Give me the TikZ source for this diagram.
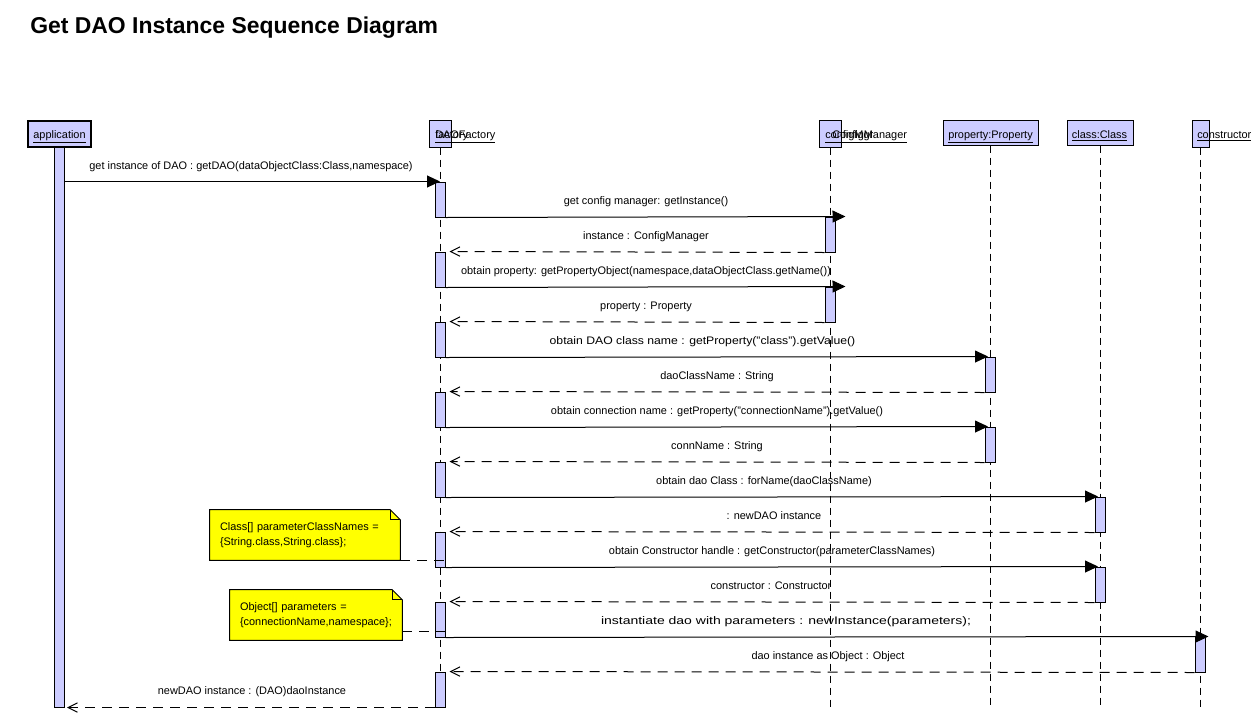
\documentclass[tikz,border=0pt]{standalone}
\usepackage{fontspec}
\setmainfont{Liberation Sans}
\usetikzlibrary{arrows.meta,backgrounds}
\definecolor{lav}{RGB}{204,204,255}
\definecolor{noteyel}{RGB}{255,255,0}
\begin{document}
\begin{tikzpicture}[x=0.75pt,y=-0.75pt,
  every node/.style={font=\fontsize{8.2}{11.25}\selectfont, inner sep=0pt},
  hdr/.style={draw=black, fill=lav, line width=0.75pt},
  act/.style={draw=black, fill=lav, line width=0.75pt, minimum width=7.5pt},
  life/.style={line width=0.75pt, dash pattern=on 5.25pt off 3.75pt},
  call/.style={line width=0.75pt, -{Triangle[length=9.75pt,width=9pt]}},
  ret/.style={line width=0.75pt, dash pattern=on 7.5pt off 5.25pt, -{Straight Barb[length=7pt,width=7pt]}},
  lbl/.style={anchor=base},
  htxt/.style={anchor=base west},
  notebox/.style={draw=black, fill=noteyel, line width=0.75pt},
  notetxt/.style={align=left, inner xsep=7.5pt},
  notelink/.style={line width=0.75pt, dash pattern=on 7.5pt off 5.25pt}]

\useasboundingbox (0,0) rectangle (1260,718);

% title
\node[anchor=base west, font=\fontsize{17.2}{20}\selectfont\bfseries] (title) at (30,33) {Get DAO Instance Sequence Diagram};

% headers
\node[hdr, line width=1.5pt, minimum width=63*0.75pt, minimum height=26*0.75pt] (app) at (59.5,133.5) {};
\node[anchor=base] (appT) at (59.5,138) {\underline{application}};
\node[hdr, minimum width=22*0.75pt, minimum height=27*0.75pt] (fac) at (440,133.5) {};
\node[htxt] (facT1) at (435,138) {\underline{factory}};
\node[htxt] (facT2) at (435,138) {\underline{DAOFactory}};
\node[hdr, minimum width=22*0.75pt, minimum height=27*0.75pt] (cfg) at (830.5,133.5) {};
\node[htxt] (cfgT1) at (825,138) {\underline{configMgr}};
\node[htxt] (cfgT2) at (832,138) {\underline{ConfigManager}};
\node[hdr, minimum width=95*0.75pt, minimum height=25*0.75pt] (prop) at (990.5,132.5) {};
\node[anchor=base] (propT) at (990.5,138) {\underline{property:Property}};
\node[hdr, minimum width=66*0.75pt, minimum height=25*0.75pt] (cls) at (1100,132.5) {};
\node[anchor=base] (clsT) at (1099.5,138) {\underline{class:Class}};
\node[hdr, minimum width=17*0.75pt, minimum height=27*0.75pt] (ctor) at (1200.5,133.5) {};
\node[htxt] (ctorT) at (1197,138) {\underline{constructor}};

% lifelines
\coordinate (facE) at (440,707);
\coordinate (cfgE) at (830.5,707);
\coordinate (propE) at (990.5,707);
\coordinate (clsE) at (1100,707);
\coordinate (ctorE) at (1200.5,707);
\draw[life] (fac.south) -- (facE);
\draw[life] (cfg.south) -- (cfgE);
\draw[life] (prop.south) -- (propE);
\draw[life] (cls.south) -- (clsE);
\draw[life] (ctor.south) -- (ctorE);

% activations
\node[act, minimum height=560*0.75pt] (a0) at (59.5,427) {};
\foreach \n/\y in {f1/182,f2/252,f3/322,f4/392,f5/462,f6/532,f7/602,f8/672}
  \node[act, minimum height=35*0.75pt] (\n) at (440,\y+17.5) {};
\node[act, minimum height=35*0.75pt] (c1) at (830,234.5) {};
\node[act, minimum height=35*0.75pt] (c2) at (830,304.5) {};
\node[act, minimum height=35*0.75pt] (p1) at (990,374.5) {};
\node[act, minimum height=35*0.75pt] (p2) at (990,444.5) {};
\node[act, minimum height=35*0.75pt] (k1) at (1100,514.5) {};
\node[act, minimum height=35*0.75pt] (k2) at (1100,584.5) {};
\node[act, minimum height=35*0.75pt] (t1) at (1200,654.5) {};

% messages
\draw[call] (a0.east |- f1.north) -- (f1.north);
\draw[call] (f1.south east) -- ([xshift=7.5pt]c1.north east);
\draw[ret] (c1.south west) -- ([xshift=3pt]f2.north east);
\draw[call] (f2.south east) -- ([xshift=7.5pt]c2.north east);
\draw[ret] (c2.south west) -- ([xshift=3pt]f3.north east);
\draw[call] (f3.south east) -- ([xshift=-1.5pt]p1.north);
\draw[ret] (p1.south west) -- ([xshift=3pt]f4.north east);
\draw[call] (f4.south east) -- ([xshift=-1.5pt]p2.north);
\draw[ret] (p2.south west) -- ([xshift=3pt]f5.north east);
\draw[call] (f5.south east) -- ([xshift=-1.5pt]k1.north);
\draw[ret] (k1.south west) -- ([xshift=3pt]f6.north east);
\draw[call] (f6.south east) -- ([xshift=-1.5pt]k2.north);
\draw[ret] (k2.south west) -- ([xshift=3pt]f7.north east);
\draw[call] (f7.south east) -- ([xshift=2.25pt]t1.north east);
\draw[ret] (t1.south west) -- ([xshift=3pt]f8.north east);
\draw[ret] (f8.south west) -- ([xshift=1.5pt]a0.south east);

% message labels
\node[lbl] (m1) at (251,169) {get instance of DAO : getDAO(dataObjectClass:Class,namespace)};
\node[lbl] (m2) at (646,204) {get config manager: getInstance()};
\node[lbl] (m3) at (646,239) {instance : ConfigManager};
\node[lbl] (m4) at (646,274) {obtain property: getPropertyObject(namespace,dataObjectClass.getName())};
\node[lbl] (m5) at (646,309) {property : Property};
\node[lbl] (m6) at (702.5,344) {\scalebox{1.117}[1]{obtain DAO class name : getProperty("class").getValue()}};
\node[lbl] (m7) at (717,379) {daoClassName : String};
\node[lbl] (m8) at (717,414) {obtain connection name : getProperty("connectionName").getValue()};
\node[lbl] (m9) at (717,449) {connName : String};
\node[lbl] (m10) at (764,484) {obtain dao Class : forName(daoClassName)};
\node[lbl] (m11) at (774,519) {: newDAO instance};
\node[lbl] (m12) at (772,554) {obtain Constructor handle : getConstructor(parameterClassNames)};
\node[lbl] (m13) at (771,589) {constructor : Constructor};
\node[lbl] (m14) at (786,624) {\scalebox{1.28}[1]{instantiate dao with parameters : newInstance(parameters);}};
\node[lbl] (m15) at (828,659) {dao instance as Object : Object};
\node[lbl] (m16) at (252,694) {newDAO instance : (DAO)daoInstance};

% notes
\node[notetxt, text width=170*0.75pt, minimum height=50*0.75pt] (n1) at (305,535)
  {Class[] parameterClassNames =\\\{String.class,String.class\};};
\node[notetxt, text width=152*0.75pt, minimum height=50*0.75pt] (n2) at (316,615)
  {Object[] parameters =\\\{connectionName,namespace\};};
\begin{scope}[on background layer]
  \fill[white] (0,0) rectangle (1260,718);
  \foreach \nn in {n1,n2}{
    \draw[notebox] (\nn.north west) -- ([xshift=-7.5pt]\nn.north east) -- ([yshift=-7.5pt]\nn.north east) -- (\nn.south east) -- (\nn.south west) -- cycle;
    \draw[line width=0.75pt] ([xshift=-7.5pt]\nn.north east) -- ([xshift=-7.5pt,yshift=-7.5pt]\nn.north east) -- ([yshift=-7.5pt]\nn.north east);
  }
\end{scope}
\draw[notelink] (n1.south east) -- (n1.south east -| f6.east);
\coordinate (n2l) at ([yshift=6.75pt]n2.south east);
\draw[notelink] (n2l) -- (n2l -| f7.east);
\end{tikzpicture}
\end{document}
